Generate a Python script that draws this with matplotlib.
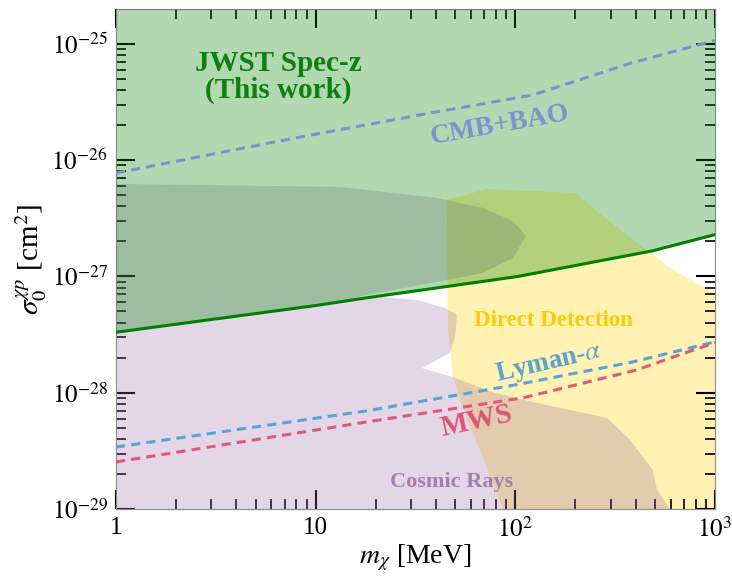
import numpy as np
import matplotlib
matplotlib.use("Agg")
import matplotlib.pyplot as plt
from matplotlib.patches import Polygon
from matplotlib.ticker import FixedLocator, FixedFormatter, LogLocator, NullFormatter

plt.rcParams['font.family'] = 'serif'
plt.rcParams['font.serif'] = ['Liberation Serif', 'DejaVu Serif']
plt.rcParams['mathtext.fontset'] = 'stix'

# ---------------- data ----------------
# JWST Spec-z bound (this work)
jwst_m = [1, 10, 17.8, 103, 486, 1000]
jwst_s = [3.31e-28, 5.62e-28, 6.53e-28, 1.0e-27, 1.66e-27, 2.29e-27]

# CMB+BAO
cmb_m = [1, 8.34, 38.7, 122, 388, 1000]
cmb_s = [7.76e-27, 1.58e-26, 2.57e-26, 3.63e-26, 6.92e-26, 1.07e-25]

# Lyman-alpha
lya_m = [1, 17.9, 100.7, 388, 1000]
lya_s = [3.41e-29, 6.97e-29, 1.17e-28, 1.84e-28, 2.74e-28]

# Milky Way satellites
mws_m = [1, 17.9, 109, 406, 660, 1000]
mws_s = [2.54e-29, 5.60e-29, 9.02e-29, 1.57e-28, 2.11e-28, 2.69e-28]

# Cosmic rays excluded region (outline)
cr_m = [1, 1, 13.2, 40.5, 68.8, 97.3, 113, 97.3, 68.8, 45.4, 18.1, 14.0,
        21.0, 32.2, 44.4, 51.0, 49.9, 47.0, 34.1, 48.7, 77.3, 122, 288,
        375, 489, 512, 594]
cr_s = [1e-29, 6.25e-27, 5.89e-27, 4.73e-27, 3.88e-27, 3.00e-27, 2.23e-27,
        1.44e-27, 1.07e-27, 9.33e-28, 6.93e-28, 6.28e-28,
        6.67e-28, 6.28e-28, 5.36e-28, 4.67e-28, 3.02e-28, 2.20e-28,
        1.63e-28, 1.36e-28, 1.01e-28, 8.32e-29, 6.07e-29,
        3.93e-29, 2.16e-29, 1.46e-29, 1e-29]

# Direct detection excluded region (outline)
dd_m = [45.4, 54.7, 70.4, 201, 262, 467, 615, 1000, 1000, 86.7, 68.8,
        57.3, 48.7, 47.6, 46.0]
dd_s = [4.65e-27, 4.92e-27, 5.66e-27, 5.22e-27, 3.52e-27, 1.63e-27,
        1.14e-27, 7.21e-28, 1e-29, 1e-29, 2.80e-29,
        5.83e-29, 1.36e-28, 2.11e-28, 3.47e-28]

xticks = [1, 10, 100, 1000]
xticklabels = ['1', '10', '$10^2$', '$10^3$']
yticks = [1e-29, 1e-28, 1e-27, 1e-26, 1e-25]
yticklabels = ['$10^{-29}$', '$10^{-28}$', '$10^{-27}$', '$10^{-26}$', '$10^{-25}$']

# ---------------- figure ----------------
fig = plt.figure(figsize=(7.32, 5.77), dpi=100)
ax = fig.add_axes([116/732, 68/577, 599/732, 500/577])
ax.set_xscale('log')
ax.set_yscale('log')
ax.set_xlim(1, 1000)
ax.set_ylim(1e-29, 10**-24.70)

purple = (155/255, 104/255, 163/255)

ax.add_patch(Polygon(np.column_stack([dd_m, dd_s]), closed=True,
                     facecolor=(1.0, 0.843, 0.0), alpha=0.3, edgecolor='none', zorder=1))
ax.add_patch(Polygon(np.column_stack([cr_m, cr_s]), closed=True,
                     facecolor=purple, alpha=0.27, edgecolor='none', zorder=2))
ax.fill_between(jwst_m, jwst_s, 1e-23, color=(0, 0.5, 0), alpha=0.3, lw=0, zorder=3)

ax.plot(jwst_m, jwst_s, color=(0, 0.5, 0), lw=2.2, zorder=6)
ax.plot(cmb_m, cmb_s, color='#7f90d2', lw=2.2, ls=(0, (3, 2)), zorder=5)
ax.plot(lya_m, lya_s, color='#5aa3d6', lw=2.2, ls=(0, (3, 2)), zorder=5)
ax.plot(mws_m, mws_s, color='#e2587a', lw=2.2, ls=(0, (3, 2)), zorder=5)

ax.text(6.48, 5.2e-26, 'JWST Spec-z\n(This work)', color=(0.05, 0.5, 0.05),
        fontsize=21, fontweight='bold', ha='center', va='center',
        multialignment='center', linespacing=0.95, zorder=7)
ax.text(83.7, 2.01e-26, 'CMB+BAO', color='#7f90d2', fontsize=20, fontweight='bold',
        ha='center', va='center', rotation=10, zorder=7)
ax.text(156, 4.14e-28, 'Direct Detection', color='#ffcc00', fontsize=16.5,
        fontweight='bold', ha='center', va='center', zorder=7)
ax.text(147, 1.8e-28, r'Lyman-$\alpha$', color='#5aa3cc', fontsize=19.5,
        fontweight='bold', ha='center', va='center', rotation=13, zorder=7)
ax.text(64.2, 5.71e-29, 'MWS', color='#dc5578', fontsize=21, fontweight='bold',
        ha='center', va='center', rotation=12, zorder=7)
ax.text(48.2, 1.71e-29, 'Cosmic Rays', color='#a57caf', fontsize=16,
        fontweight='bold', ha='center', va='center', zorder=7)

ax.xaxis.set_major_locator(FixedLocator(xticks))
ax.xaxis.set_major_formatter(FixedFormatter(xticklabels))
ax.yaxis.set_major_locator(FixedLocator(yticks))
ax.yaxis.set_major_formatter(FixedFormatter(yticklabels))
ax.xaxis.set_minor_locator(LogLocator(base=10, subs=np.arange(2, 10), numticks=20))
ax.yaxis.set_minor_locator(LogLocator(base=10, subs=np.arange(2, 10), numticks=20))
ax.xaxis.set_minor_formatter(NullFormatter())
ax.yaxis.set_minor_formatter(NullFormatter())

ax.tick_params(which='both', direction='in', top=True, right=True, color='black')
ax.tick_params(which='major', length=14, width=1.5, labelsize=18, pad=6)
ax.tick_params(which='minor', length=7, width=1.2)
for s in ax.spines.values():
    s.set_color('0.55')
    s.set_linewidth(0.8)

ax.set_xlabel(r'$m_\chi$ [MeV]', fontsize=20, labelpad=0)
ax.set_ylabel(r'$\sigma_0^{\chi p}$ [cm$^2$]', fontsize=21, labelpad=2)

fig.savefig('out.png', dpi=100)
